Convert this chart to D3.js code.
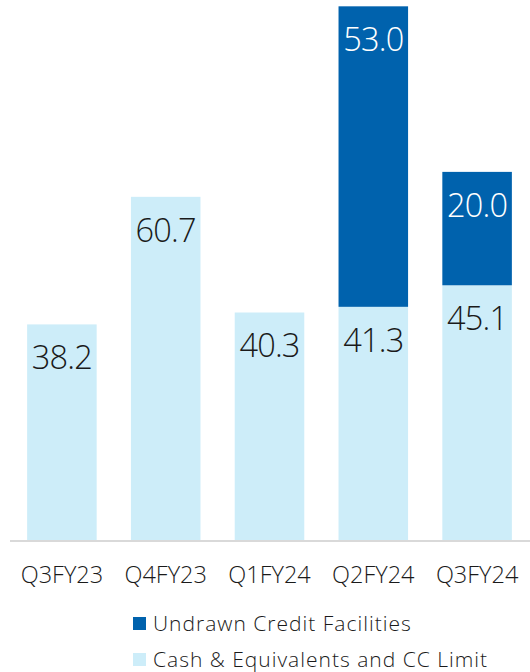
<!DOCTYPE html>
<html>
<head>
<meta charset="utf-8">
<script src="https://cdn.jsdelivr.net/npm/d3@7"></script>
<style>
  body { margin: 0; background: #fff; }
  svg text { font-family: "Open Sans", sans-serif; font-weight: 300; fill: #1a1a1a; }
</style>
</head>
<body>
<svg width="530" height="672"></svg>
<script>
const quarters = ['Q3FY23', 'Q4FY23', 'Q1FY24', 'Q2FY24', 'Q3FY24'];
const cashValues = [38.2, 60.7, 40.3, 41.3, 45.1];
const undrawnValues = [0, 0, 0, 53.0, 20.0];
const seriesNames = ['Undrawn Credit Facilities', 'Cash & Equivalents and CC Limit'];
const seriesColors = ['#0062ad', '#cdedf9'];

const svg = d3.select('svg');
const baseY = 541;

const xScale = d3.scaleBand()
  .domain(quarters)
  .range([10, 529])
  .paddingInner(0.33)
  .paddingOuter(0.165);

const yScale = d3.scaleLinear()
  .domain([0, 95])
  .range([baseY, baseY - 95 * 5.67]);

const rows = quarters.map((q, i) => ({ q, cash: cashValues[i], undrawn: undrawnValues[i] }));

const stack = d3.stack().keys(['cash', 'undrawn'])(rows);
const colorFor = { cash: seriesColors[1], undrawn: seriesColors[0] };

const layers = svg.append('g').selectAll('g')
  .data(stack)
  .enter()
  .append('g')
  .attr('fill', (s) => colorFor[s.key]);

layers.selectAll('rect')
  .data((s) => s.filter((d) => d[1] - d[0] > 0))
  .enter()
  .append('rect')
  .attr('x', (d) => xScale(d.data.q))
  .attr('y', (d) => yScale(d[1]))
  .attr('height', (d) => yScale(d[0]) - yScale(d[1]))
  .attr('width', xScale.bandwidth());

// value labels, just below the top of each segment
stack.forEach((s) => {
  svg.append('g').selectAll('text')
    .data(s.filter((d) => d[1] - d[0] > 0))
    .enter()
    .append('text')
    .attr('x', (d) => xScale(d.data.q) + xScale.bandwidth() / 2)
    .attr('y', (d) => yScale(d[1]) + 45)
    .attr('text-anchor', 'middle')
    .style('font-size', '32.5px')
    .style('letter-spacing', '-0.8px')
    .style('fill', s.key === 'undrawn' ? '#fff' : '#1a1a1a')
    .text((d) => (d[1] - d[0]).toFixed(1));
});

const xAxis = svg.append('g')
  .attr('transform', `translate(0, ${baseY})`)
  .call(d3.axisBottom(xScale).tickSize(0).tickPadding(0));

xAxis.select('.domain')
  .attr('d', `M10,0H530`)
  .attr('stroke', '#d9d9d9')
  .attr('stroke-width', 2);

xAxis.selectAll('text')
  .attr('dy', 0)
  .attr('y', 42)
  .style('font-size', '23.5px')
  .style('fill', '#1a1a1a');

const legend = svg.append('g').attr('transform', 'translate(133, 617)');

seriesNames.forEach((name, i) => {
  const row = legend.append('g').attr('transform', `translate(0, ${i * 36})`);
  row.append('rect')
    .attr('width', 13)
    .attr('height', 13)
    .attr('fill', seriesColors[i]);
  row.append('text')
    .attr('x', 20)
    .attr('y', 13.5)
    .style('font-size', '21px')
    .style('letter-spacing', '1px')
    .text(name);
});
</script>
</body>
</html>
